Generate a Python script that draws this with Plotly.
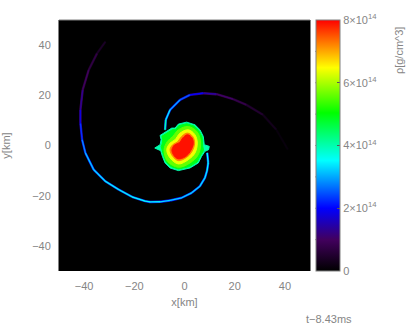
import plotly.graph_objects as go
from plotly.colors import sample_colorscale

FONT = "Liberation Sans"
GREY = "#858585"

# density colour ramp of the colour bar (fraction of 8e14, colour)
colorscale = [
    [0.0, "#000000"], [0.125, "#42005e"], [0.25, "#0000ff"], [0.44, "#00ffff"],
    [0.63, "#00ff00"], [0.81, "#ffff00"], [1.0, "#ff0000"],
]
rho_max = 8e14
bar_label_values = [0, 2e14, 4e14, 6e14, 8e14]
bar_label_texts = ["0", "2×10<sup>14</sup>", "4×10<sup>14</sup>",
                   "6×10<sup>14</sup>", "8×10<sup>14</sup>"]
bar_minor_values = [1e14, 3e14, 5e14, 7e14]
axis_ticks = [-40, -20, 0, 20, 40]

# spiral arms: km, km, density
arm1_x = [9.05, 9.44, 9.0, 8.13, 6.15, 2.86, -1.11, -5.75, -9.72, -13.69, -15.67, -20.95, -26.27, -31.55, -36.19, -39.48, -40.79, -41.47, -41.47, -40.56, -38.17, -34.84, -31.55]
arm1_y = [-2.98, -6.94, -10.0, -12.9, -16.2, -18.85, -20.83, -21.9, -22.42, -22.5, -22.18, -20.44, -17.54, -14.25, -9.6, -2.98, 2.3, 8.93, 14.2, 22.14, 30.08, 36.7, 41.3]
arm1_rho = [3.5e14, 3.6e14, 3.5e14, 3.4e14, 3.3e14, 3.3e14, 3.3e14, 3.2e14, 3.4e14, 3.5e14, 3.5e14, 3.6e14, 3.6e14, 3.5e14, 3.3e14, 3.1e14, 2.6e14, 2.0e14, 1.6e14, 1.05e14, 0.9e14, 0.55e14, 0.3e14]
arm2_x = [-7.74, -7.46, -5.75, -1.79, 2.18, 7.46, 12.78, 19.37, 24.68, 31.27, 36.59, 41.19]
arm2_y = [6.27, 10.24, 14.2, 18.17, 20.16, 20.83, 20.44, 18.45, 16.19, 12.22, 6.27, -1.67]
arm2_rho = [4.4e14, 3.6e14, 3.3e14, 2.9e14, 2.2e14, 1.8e14, 1.15e14, 0.95e14, 0.65e14, 0.4e14, 0.2e14, 0.08e14]

# nested iso-density outlines of the central remnant
rim_rho = 4.0e14
rim_x = [-9.72, -7.07, -5.09, -3.77, -2.44, 0.86, 4.17, 6.16, 7.48, 7.87, 8.8, 9.86, 9.59, 8.14, 6.82, 5.49, 2.19, -2.44, -5.75, -7.74, -8.8, -9.46, -11.84, -9.72, -9.32]
rim_y = [4.02, 5.6, 6.93, 6.93, 8.52, 9.31, 8.25, 6.27, 3.62, 0.31, 0.05, -0.35, -1.67, -2.33, -4.32, -6.96, -8.95, -10.0, -8.95, -6.96, -4.32, -2.07, -1.01, 0.31, 2.3]
plateau_rho = 4.9e14
plateau_x = [-9.0, -7.0, -4.8, -3.6, -2.3, 0.9, 3.9, 5.7, 7.0, 7.3, 7.6, 6.3, 5.0, 2.0, -2.4, -5.4, -7.3, -8.3, -8.9, -9.3, -8.9, -8.7]
plateau_y = [3.7, 5.0, 6.3, 6.3, 7.9, 8.7, 7.7, 5.9, 3.4, -0.4, -2.0, -4.1, -6.6, -8.4, -9.4, -8.4, -6.6, -4.1, -1.9, -0.4, 0.6, 2.3]
lime_rho = 5.6e14
lime_x = [-2.44, 1.52, 5.1, 6.42, 5.49, 2.19, -2.44, -6.81, -8.13, -6.81, -4.69]
lime_y = [6.27, 7.59, 5.34, 0.97, -3.66, -6.96, -8.68, -6.3, -1.67, 1.64, 3.62]
yellow_rho = 6.4e14
yellow_x = [-1.78, 1.52, 4.17, 5.1, 4.17, 1.52, -2.44, -5.75, -7.07, -5.75, -3.77]
yellow_y = [4.94, 6.27, 4.28, 0.97, -3.0, -5.64, -7.36, -4.98, -1.67, 0.97, 2.3]
orange_rho = 7.2e14
orange_x = [-1.12, 1.13, 3.24, 4.04, 2.85, 0.86, -2.44, -4.69, -5.75, -4.69, -2.84]
orange_y = [3.62, 4.94, 3.62, 0.97, -2.6, -4.71, -6.04, -4.32, -1.67, 0.31, 1.37]
red_rho = 7.9e14
red_x = [-0.7, 1.2, 3.0, 3.5, 2.2, 0.3, -2.6, -4.4, -5.0, -4.0, -1.9]
red_y = [3.0, 4.3, 3.0, 0.7, -2.5, -4.5, -5.3, -3.7, -1.8, 0.2, 1.2]

core_levels = [
    (rim_x, rim_y, rim_rho, "linear"), (plateau_x, plateau_y, plateau_rho, "linear"),
    (lime_x, lime_y, lime_rho, "spline"), (yellow_x, yellow_y, yellow_rho, "spline"),
    (orange_x, orange_y, orange_rho, "spline"), (red_x, red_y, red_rho, "spline"),
]


def colour_of(rho):
    return sample_colorscale(colorscale, [min(rho / rho_max, 1.0)])[0]


fig = go.Figure()

for xs, ys, rhos in [(arm1_x, arm1_y, arm1_rho), (arm2_x, arm2_y, arm2_rho)]:
    for width, scale in [(2.4, 0.66), (1.3, 1.0)]:
        for i in range(len(xs) - 1):
            mean_rho = (rhos[i] + rhos[i + 1]) / 2
            fig.add_trace(go.Scatter(
                x=xs[i:i + 2], y=ys[i:i + 2], mode="lines", hoverinfo="skip",
                line=dict(color=colour_of(mean_rho * scale), width=width),
                showlegend=False))

for xs, ys, rho, shape in core_levels:
    fig.add_trace(go.Scatter(
        x=xs + xs[:1], y=ys + ys[:1], mode="lines", fill="toself",
        fillcolor=colour_of(rho),
        line=dict(color=colour_of(rho), width=1, shape=shape),
        hoverinfo="skip", showlegend=False))

# carries the colour bar; every reading point of the arms
fig.add_trace(go.Scatter(
    x=arm1_x + arm2_x, y=arm1_y + arm2_y, mode="markers", showlegend=False,
    hoverinfo="skip",
    marker=dict(
        size=1, color=arm1_rho + arm2_rho, cmin=0, cmax=rho_max, colorscale=colorscale,
        colorbar=dict(
            xref="container", x=316 / 409, xanchor="left", xpad=0, ypad=0,
            y=0.5, yanchor="middle", len=1, lenmode="fraction",
            thickness=23.5, thicknessmode="pixels",
            tickvals=bar_label_values, ticktext=bar_label_texts,
            ticks="inside", ticklen=3, tickcolor="#555555", tickwidth=1,
            tickfont=dict(family=FONT, size=11, color=GREY),
            outlinecolor="#808080", outlinewidth=1,
        ),
    ),
))

axis_common = dict(
    range=[-50, 50], tickvals=axis_ticks, ticks="outside", ticklen=5,
    tickcolor="rgba(0,0,0,0)", showgrid=False, zeroline=False,
    tickfont=dict(family=FONT, size=11, color=GREY),
)
title_font = dict(family=FONT, size=11, color=GREY)

# remaining inner ticks of the colour bar and the top frame line
bar_left = (316 - 58.5) / 252
bar_right = (339.5 - 58.5) / 252
tick_w = 3 / 252
tick_line = dict(color="#555555", width=1)
shapes = [dict(type="line", xref="paper", yref="paper", x0=bar_left, x1=bar_left + tick_w,
               y0=v / rho_max, y1=v / rho_max, line=tick_line)
          for v in bar_minor_values + bar_label_values[1:-1]]
shapes += [dict(type="line", xref="paper", yref="paper", x0=bar_right - tick_w, x1=bar_right,
                y0=v / rho_max, y1=v / rho_max, line=tick_line)
           for v in bar_minor_values]
shapes.append(dict(type="line", xref="paper", yref="paper", x0=0, x1=1, y0=1, y1=1,
                   line=dict(color="#808080", width=1)))

fig.update_layout(
    width=409, height=327, paper_bgcolor="white", plot_bgcolor="black",
    margin=dict(l=58.5, r=98.5, t=20, b=55.5, autoexpand=False),
    xaxis=dict(axis_common, title=dict(text="x[km]", standoff=7, font=title_font)),
    yaxis=dict(axis_common, showline=True, linecolor="#808080", linewidth=1, mirror=True,
               title=dict(text="y[km]", standoff=32, font=title_font)),
    shapes=shapes,
    annotations=[
        dict(text="ρ[g/cm^3]", xref="paper", yref="paper", x=(400 - 58.5) / 252,
             y=1 - (50 - 20) / 251.5, xanchor="center", yanchor="middle", textangle=-90,
             showarrow=False, font=title_font),
        dict(text="t−8.43ms", xref="paper", yref="paper", x=(330 - 58.5) / 252,
             y=1 - (320 - 20) / 251.5, xanchor="center", yanchor="middle", showarrow=False,
             font=title_font),
    ],
)

fig.write_html("out.html", config=dict(displayModeBar=False),
               post_script="document.body.style.margin='0';")
